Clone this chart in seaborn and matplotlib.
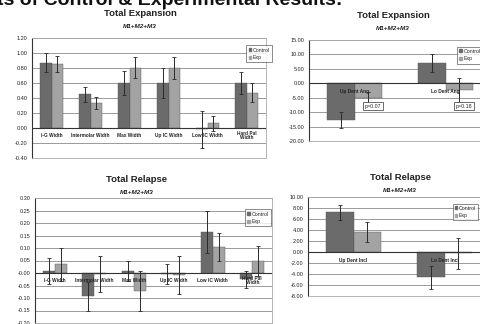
import numpy as np
import pandas as pd
import matplotlib
matplotlib.use("Agg")
import matplotlib.pyplot as plt
import matplotlib.patches as mpatches
import seaborn as sns

# expansion (mm) per width measure
width_cats = ["I-G Width", "Intermolar Width", "Max Width", "Up IC Width", "Low IC Width", "Hard Pal\nWidth"]
exp_ctrl = [0.87, 0.45, 0.60, 0.60, -0.02, 0.60]
exp_ctrl_err = [0.13, 0.10, 0.16, 0.20, 0.25, 0.15]
exp_exp = [0.85, 0.33, 0.80, 0.80, 0.06, 0.47]
exp_exp_err = [0.11, 0.08, 0.14, 0.15, 0.10, 0.13]

# expansion (deg) per dental angle
ang_cats = ["Up Dent Ang", "Lo Dent Ang"]
ang_ctrl = [-12.6, 7.0]
ang_ctrl_err = [2.8, 3.0]
ang_exp = [-5.0, -2.4]
ang_exp_err = [2.0, 4.2]
ang_p = ["p=0.07", "p=0.18"]

# relapse per width measure
rel_ctrl = [0.008, -0.092, 0.01, -0.005, 0.165, -0.025]
rel_ctrl_err = [0.052, 0.058, 0.04, 0.04, 0.085, 0.035]
rel_exp = [0.035, -0.003, -0.07, -0.008, 0.105, 0.05]
rel_exp_err = [0.065, 0.072, 0.08, 0.075, 0.055, 0.06]

# relapse per dental inclination
incl_cats = ["Up Dent Incl", "Lo Dent Incl"]
incl_ctrl = [7.2, -4.6]
incl_ctrl_err = [1.3, 2.1]
incl_exp = [3.7, -0.2]
incl_exp_err = [1.8, 2.8]

groups = ["Control", "Exp"]
DARK, LIGHT = "#6b6b6b", "#a3a3a3"

sns.set_theme(style="white")
plt.rcParams['font.family'] = ['Liberation Sans', 'DejaVu Sans']

W, H = 480, 324
fig = plt.figure(figsize=(4.8, 3.24), dpi=100)


def fx(x):
    return x / W


def fy(y):
    return 1 - y / H


def px_axes(l, t, r, b):
    return fig.add_axes([fx(l), fy(b), (r - l) / W, (b - t) / H])


def panel(ax, cats, ctrl, ctrl_err, exp, exp_err, ylim, step, lab_off, legend_box):
    df = pd.DataFrame({
        "cat": cats * 2,
        "grp": ["Control"] * len(cats) + ["Exp"] * len(cats),
        "val": ctrl + exp,
    })
    sns.barplot(data=df, x="cat", y="val", hue="grp", order=cats, hue_order=groups,
                palette=[DARK, LIGHT], errorbar=None, width=0.6, gap=0,
                saturation=1, legend=False, ax=ax, edgecolor="#555555", linewidth=0.3)
    for cont, errs in zip(ax.containers, [ctrl_err, exp_err]):
        xs = [p.get_x() + p.get_width() / 2 for p in cont]
        ys = [p.get_y() + p.get_height() if p.get_y() >= 0 and p.get_height() >= 0 else p.get_y()
              for p in cont]
        vals = ctrl if cont is ax.containers[0] else exp
        ax.errorbar(xs, vals, yerr=errs, fmt="none", ecolor="#2a2a2a",
                    elinewidth=0.7, capsize=1.2, capthick=0.6)
    ax.set_ylim(*ylim)
    ax.set_xlim(-0.5, len(cats) - 0.5)
    ax.set_yticks(np.arange(ylim[0], ylim[1] + step / 2, step))
    ax.yaxis.set_major_formatter(matplotlib.ticker.FormatStrFormatter("%.2f"))
    ax.tick_params(axis="y", labelsize=4, length=1.5, pad=1.5, colors="#222222")
    ax.set_xticks([])
    ax.set_xlabel("")
    ax.set_ylabel("")
    ax.grid(axis="y", color="#8a8a8a", linewidth=0.6)
    ax.set_axisbelow(True)
    ax.axhline(0, color="#333333", linewidth=0.8, zorder=1.5)
    for s in ["top", "right", "bottom"]:
        ax.spines[s].set_color("#aaaaaa")
        ax.spines[s].set_linewidth(0.6)
    ax.spines["left"].set_color("#333333")
    ax.spines["left"].set_linewidth(0.8)
    for i, c in enumerate(cats):
        ax.text(i, lab_off, c, ha="center", va="center", fontsize=3.4,
                fontweight="bold", color="#222222", linespacing=0.9, zorder=5)
    handles = [mpatches.Patch(color=DARK, label="Control"),
               mpatches.Patch(color=LIGHT, label="Exp")]
    leg = ax.legend(handles=handles, loc="upper left", bbox_to_anchor=legend_box,
                    fontsize=3.8, handlelength=0.5, handleheight=0.5,
                    handletextpad=0.3, borderpad=0.4, labelspacing=0.5,
                    frameon=True, fancybox=False, edgecolor="#555555")
    leg.get_frame().set_linewidth(0.6)


# top left: total expansion, widths
ax1 = px_axes(32, 38, 266, 158)
panel(ax1, width_cats, exp_ctrl, exp_ctrl_err, exp_exp, exp_exp_err,
      (-0.4, 1.2), 0.2, -0.1, (0.905, 0.96))

# top right: total expansion, angles
ax2 = px_axes(309, 40, 491, 141)
panel(ax2, ang_cats, ang_ctrl, ang_ctrl_err, ang_exp, ang_exp_err,
      (-20, 15), 5, -2.8, (0.8, 0.96))
for i, p in enumerate(ang_p):
    ax2.text(i + 0.2, -8, p, ha="center", va="center", fontsize=3.8, color="#222222",
             bbox=dict(boxstyle="square,pad=0.3", fc="white", ec="#555555", lw=0.6), zorder=6)

# bottom left: total relapse, widths
ax3 = px_axes(35, 198, 272, 323)
panel(ax3, width_cats, rel_ctrl, rel_ctrl_err, rel_exp, rel_exp_err,
      (-0.2, 0.3), 0.05, -0.03, (0.875, 0.93))

# bottom right: total relapse, inclinations
ax4 = px_axes(308, 197, 490, 296)
panel(ax4, incl_cats, incl_ctrl, incl_ctrl_err, incl_exp, incl_exp_err,
      (-8, 10), 2, -1.6, (0.78, 0.96))

# titles
for x, y, t in [(140, 13, "Total Expansion"), (393, 15, "Total Expansion"),
                (137, 180, "Total Relapse"), (400, 178, "Total Relapse")]:
    fig.text(fx(x), fy(y), t, ha="center", va="center", fontsize=6.8, fontweight="bold",
             color="#222222")
    fig.text(fx(x), fy(y + 13), "M1+M2+M3", ha="center", va="center", fontsize=4.6,
             fontweight="bold", fontstyle="italic", color="#222222")

# cropped slide heading
fig.text(fx(-3), fy(5), "ts of Control & Experimental Results:", ha="left", va="baseline",
         fontsize=14, fontweight="bold", color="#111111")

fig.savefig("out.png", dpi=100)
